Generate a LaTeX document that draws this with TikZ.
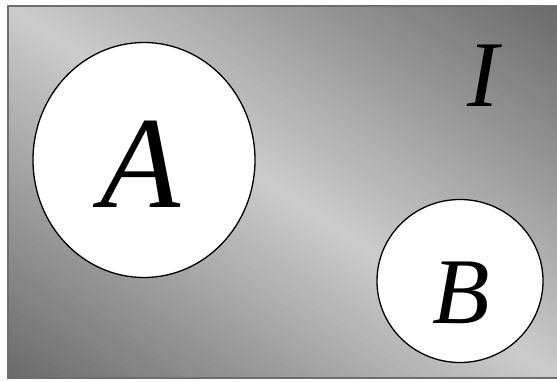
\documentclass[tikz,border=0pt]{standalone}
\usepackage{fontspec}
\setmainfont{Liberation Serif}
\usetikzlibrary{shapes.geometric}
\definecolor{dk}{gray}{0.42}
\definecolor{lt}{gray}{0.80}
\definecolor{frame}{gray}{0.43}
\tikzset{
  setbox/.style={ellipse, draw=black, line width=1.3pt, fill=white, inner sep=0pt},
  biglabel/.style={anchor=base, inner sep=0pt, font=\fontsize{131}{131}\selectfont\itshape},
  midlabel/.style={anchor=base, inner sep=0pt, font=\fontsize{94}{94}\selectfont\itshape}
}
\begin{document}
\begin{tikzpicture}[x=1pt,y=1pt]
\useasboundingbox (0,0) rectangle (557,381);
\begin{scope}
  \clip (8,3) rectangle (560,375);
  \foreach \i in {0,...,99}{
    \pgfmathsetmacro{\t}{100*(1-abs(\i-49.5)/49.5)}
    \pgfmathsetmacro{\ya}{189-308+6.16*\i}
    \fill[lt!\t!dk, rotate around={-34.1:(282.5,189)}] (-300,\ya) rectangle (900,\ya+6.6);
  }
\end{scope}
\draw[frame, line width=2pt] (8,3) rectangle (560,375);
\node (circA) [setbox, minimum width=222, minimum height=235] at (144,221) {};
\node (circB) [setbox, minimum width=166, minimum height=163] at (460,100) {};
\node (labA) [biglabel] at (141,174) {A};
\node (labB) [midlabel] at (461,58) {B};
\node (labI) [midlabel] at (483,274) {I};
\end{tikzpicture}
\end{document}
